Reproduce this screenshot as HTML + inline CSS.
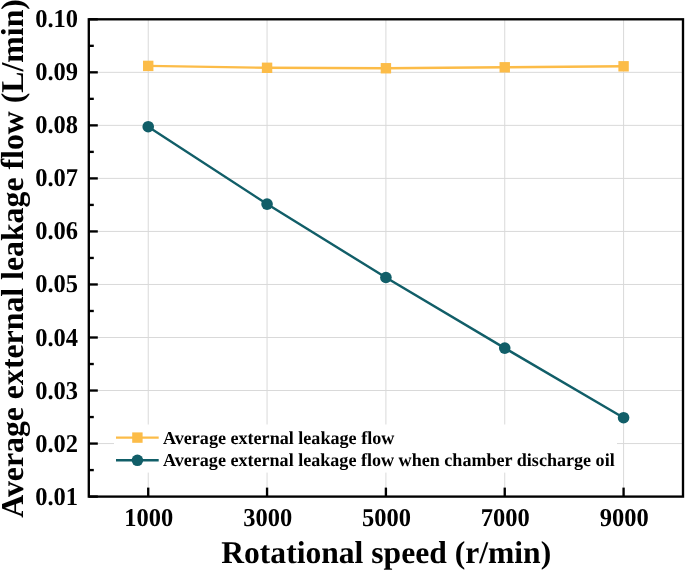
<!DOCTYPE html>
<html><head><meta charset="utf-8"><style>
html,body{margin:0;padding:0;background:#fff;}
svg{display:block;will-change:transform;}
text{font-family:"Liberation Serif",serif;font-weight:bold;fill:#000;text-rendering:geometricPrecision;}
</style></head><body>
<svg width="685" height="571" viewBox="0 0 685 571">
<rect width="685" height="571" fill="#fff"/>
<line x1="148.22" y1="19.30" x2="148.22" y2="496.60" stroke="#d9d9d9" stroke-width="1.0"/>
<line x1="267.06" y1="19.30" x2="267.06" y2="496.60" stroke="#d9d9d9" stroke-width="1.0"/>
<line x1="385.90" y1="19.30" x2="385.90" y2="496.60" stroke="#d9d9d9" stroke-width="1.0"/>
<line x1="504.74" y1="19.30" x2="504.74" y2="496.60" stroke="#d9d9d9" stroke-width="1.0"/>
<line x1="623.58" y1="19.30" x2="623.58" y2="496.60" stroke="#d9d9d9" stroke-width="1.0"/>
<line x1="88.80" y1="443.57" x2="683.00" y2="443.57" stroke="#d9d9d9" stroke-width="1.0"/>
<line x1="88.80" y1="390.53" x2="683.00" y2="390.53" stroke="#d9d9d9" stroke-width="1.0"/>
<line x1="88.80" y1="337.50" x2="683.00" y2="337.50" stroke="#d9d9d9" stroke-width="1.0"/>
<line x1="88.80" y1="284.47" x2="683.00" y2="284.47" stroke="#d9d9d9" stroke-width="1.0"/>
<line x1="88.80" y1="231.43" x2="683.00" y2="231.43" stroke="#d9d9d9" stroke-width="1.0"/>
<line x1="88.80" y1="178.40" x2="683.00" y2="178.40" stroke="#d9d9d9" stroke-width="1.0"/>
<line x1="88.80" y1="125.37" x2="683.00" y2="125.37" stroke="#d9d9d9" stroke-width="1.0"/>
<line x1="88.80" y1="72.33" x2="683.00" y2="72.33" stroke="#d9d9d9" stroke-width="1.0"/>
<polyline points="148.22,65.90 267.06,67.80 385.90,68.25 504.74,67.30 623.58,66.30" fill="none" stroke="#fcbc48" stroke-width="2.4"/>
<polyline points="148.22,126.70 267.06,204.10 385.90,277.50 504.74,348.10 623.58,417.70" fill="none" stroke="#115e68" stroke-width="2.4"/>
<rect x="143.02" y="60.70" width="10.4" height="10.4" fill="#fcbc48"/>
<rect x="261.86" y="62.60" width="10.4" height="10.4" fill="#fcbc48"/>
<rect x="380.70" y="63.05" width="10.4" height="10.4" fill="#fcbc48"/>
<rect x="499.54" y="62.10" width="10.4" height="10.4" fill="#fcbc48"/>
<rect x="618.38" y="61.10" width="10.4" height="10.4" fill="#fcbc48"/>
<circle cx="148.22" cy="126.70" r="5.8" fill="#115e68"/>
<circle cx="267.06" cy="204.10" r="5.8" fill="#115e68"/>
<circle cx="385.90" cy="277.50" r="5.8" fill="#115e68"/>
<circle cx="504.74" cy="348.10" r="5.8" fill="#115e68"/>
<circle cx="623.58" cy="417.70" r="5.8" fill="#115e68"/>
<rect x="114" y="424.5" width="503" height="48.10000000000002" fill="#fff"/>
<line x1="116" y1="437.6" x2="158.7" y2="437.6" stroke="#fcbc48" stroke-width="2.4"/>
<rect x="132.20" y="432.40" width="10.4" height="10.4" fill="#fcbc48"/>
<line x1="116" y1="460.3" x2="158.7" y2="460.3" stroke="#115e68" stroke-width="2.4"/>
<circle cx="137.4" cy="460.3" r="5.8" fill="#115e68"/>
<text x="163" y="443.7" font-size="18.3" textLength="231.3" lengthAdjust="spacingAndGlyphs">Average external leakage flow</text>
<text x="163" y="466.3" font-size="18.3" textLength="451.7" lengthAdjust="spacingAndGlyphs">Average external leakage flow when chamber discharge oil</text>
<rect x="88.80" y="19.30" width="594.20" height="477.30" fill="none" stroke="#000" stroke-width="2.35"/>
<line x1="148.22" y1="496.60" x2="148.22" y2="487.60" stroke="#000" stroke-width="2.35"/>
<line x1="267.06" y1="496.60" x2="267.06" y2="487.60" stroke="#000" stroke-width="2.35"/>
<line x1="385.90" y1="496.60" x2="385.90" y2="487.60" stroke="#000" stroke-width="2.35"/>
<line x1="504.74" y1="496.60" x2="504.74" y2="487.60" stroke="#000" stroke-width="2.35"/>
<line x1="623.58" y1="496.60" x2="623.58" y2="487.60" stroke="#000" stroke-width="2.35"/>
<line x1="88.80" y1="496.60" x2="97.80" y2="496.60" stroke="#000" stroke-width="2.35"/>
<line x1="88.80" y1="443.57" x2="97.80" y2="443.57" stroke="#000" stroke-width="2.35"/>
<line x1="88.80" y1="390.53" x2="97.80" y2="390.53" stroke="#000" stroke-width="2.35"/>
<line x1="88.80" y1="337.50" x2="97.80" y2="337.50" stroke="#000" stroke-width="2.35"/>
<line x1="88.80" y1="284.47" x2="97.80" y2="284.47" stroke="#000" stroke-width="2.35"/>
<line x1="88.80" y1="231.43" x2="97.80" y2="231.43" stroke="#000" stroke-width="2.35"/>
<line x1="88.80" y1="178.40" x2="97.80" y2="178.40" stroke="#000" stroke-width="2.35"/>
<line x1="88.80" y1="125.37" x2="97.80" y2="125.37" stroke="#000" stroke-width="2.35"/>
<line x1="88.80" y1="72.33" x2="97.80" y2="72.33" stroke="#000" stroke-width="2.35"/>
<line x1="88.80" y1="19.30" x2="97.80" y2="19.30" stroke="#000" stroke-width="2.35"/>
<line x1="88.80" y1="470.08" x2="93.80" y2="470.08" stroke="#000" stroke-width="2.35"/>
<line x1="88.80" y1="417.05" x2="93.80" y2="417.05" stroke="#000" stroke-width="2.35"/>
<line x1="88.80" y1="364.02" x2="93.80" y2="364.02" stroke="#000" stroke-width="2.35"/>
<line x1="88.80" y1="310.98" x2="93.80" y2="310.98" stroke="#000" stroke-width="2.35"/>
<line x1="88.80" y1="257.95" x2="93.80" y2="257.95" stroke="#000" stroke-width="2.35"/>
<line x1="88.80" y1="204.92" x2="93.80" y2="204.92" stroke="#000" stroke-width="2.35"/>
<line x1="88.80" y1="151.88" x2="93.80" y2="151.88" stroke="#000" stroke-width="2.35"/>
<line x1="88.80" y1="98.85" x2="93.80" y2="98.85" stroke="#000" stroke-width="2.35"/>
<line x1="88.80" y1="45.82" x2="93.80" y2="45.82" stroke="#000" stroke-width="2.35"/>
<text transform="translate(78.0,504.60) scale(1,1.05)" font-size="24.5" text-anchor="end">0.01</text>
<text transform="translate(78.0,451.57) scale(1,1.05)" font-size="24.5" text-anchor="end">0.02</text>
<text transform="translate(78.0,398.53) scale(1,1.05)" font-size="24.5" text-anchor="end">0.03</text>
<text transform="translate(78.0,345.50) scale(1,1.05)" font-size="24.5" text-anchor="end">0.04</text>
<text transform="translate(78.0,292.47) scale(1,1.05)" font-size="24.5" text-anchor="end">0.05</text>
<text transform="translate(78.0,239.43) scale(1,1.05)" font-size="24.5" text-anchor="end">0.06</text>
<text transform="translate(78.0,186.40) scale(1,1.05)" font-size="24.5" text-anchor="end">0.07</text>
<text transform="translate(78.0,133.37) scale(1,1.05)" font-size="24.5" text-anchor="end">0.08</text>
<text transform="translate(78.0,80.33) scale(1,1.05)" font-size="24.5" text-anchor="end">0.09</text>
<text transform="translate(78.0,27.30) scale(1,1.05)" font-size="24.5" text-anchor="end">0.10</text>
<text transform="translate(148.82,526.3) scale(1,1.05)" font-size="24.5" text-anchor="middle">1000</text>
<text transform="translate(267.66,526.3) scale(1,1.05)" font-size="24.5" text-anchor="middle">3000</text>
<text transform="translate(386.50,526.3) scale(1,1.05)" font-size="24.5" text-anchor="middle">5000</text>
<text transform="translate(505.34,526.3) scale(1,1.05)" font-size="24.5" text-anchor="middle">7000</text>
<text transform="translate(624.18,526.3) scale(1,1.05)" font-size="24.5" text-anchor="middle">9000</text>
<text x="386.2" y="562.8" font-size="31.6" text-anchor="middle">Rotational speed (r/min)</text>
<text transform="translate(23.2,258.4) rotate(-90)" x="0" y="0" font-size="31.8" text-anchor="middle">Average external leakage flow (L/min)</text>
</svg>
</body></html>
